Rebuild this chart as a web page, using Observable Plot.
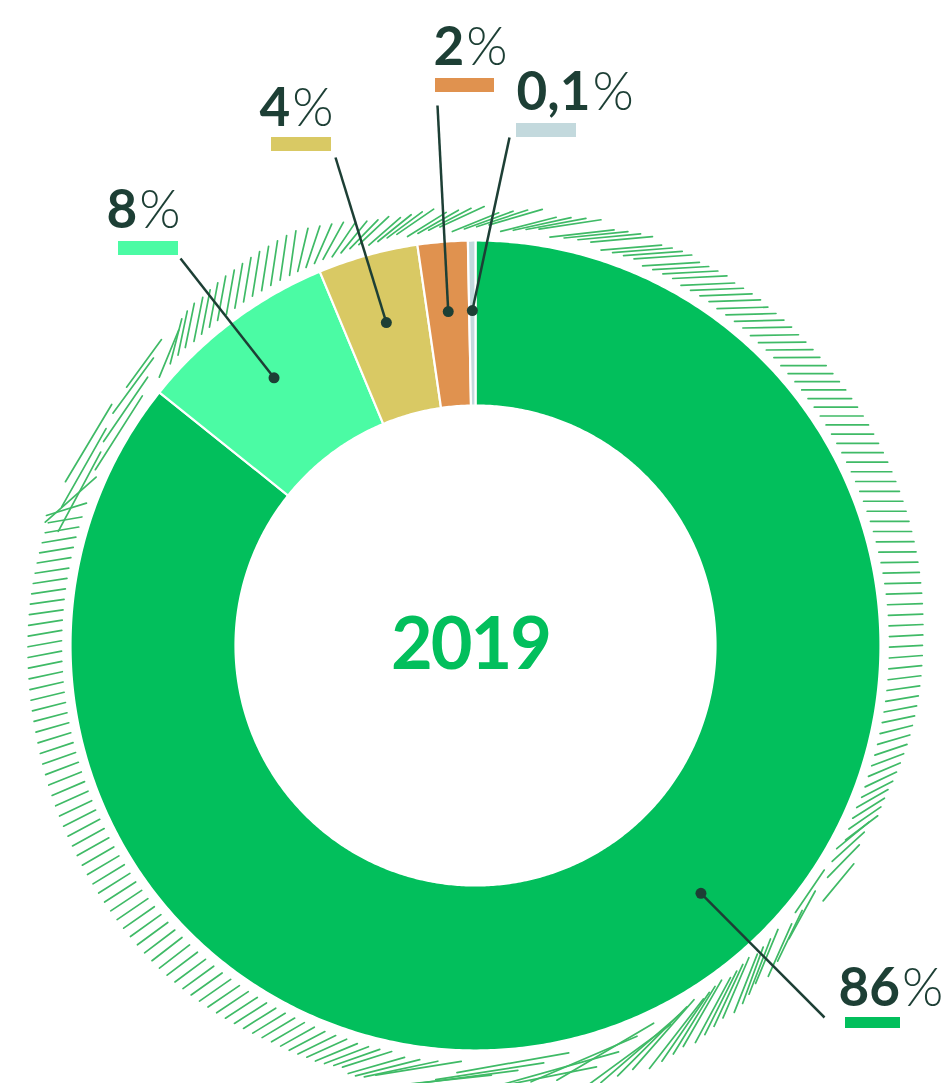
<!DOCTYPE html>
<html><head><meta charset="utf-8">
<script src="https://cdn.jsdelivr.net/npm/d3@7"></script>
<script src="https://cdn.jsdelivr.net/npm/@observablehq/plot@0.6"></script>
<style>html,body{margin:0;padding:0;background:#fff}</style>
</head><body><div id="chart"></div>
<script>
// ---- data ----
const categories = ["cat1", "cat2", "cat3", "cat4", "cat5"];
const values = [86, 8, 4, 2, 0.1];
const valueNumbers = ["86", "8", "4", "2", "0,1"];
const valueUnit = "%";
const colors = ["#02bf5c", "#4bfba4", "#d9c964", "#e0924f", "#c3d9dd"];
const centerLabel = "2019";

// ---- layout (pixels) ----
const W = 947, H = 1083;
const cx = 475, cy = 645, rOuter = 405, rInner = 240, rDot = 335;
const minVisualShare = 0.3; // tiny slices drawn slightly wider so they stay visible
const ink = "#1d3f35";
const numFont = {size: 53, weight: 700};
const labelLayout = [
  {tx: 838, ty: 1005, bx1: 845, bx2: 900, by1: 1017, by2: 1028, lx: 824, ly: 1017, dotAngle: 137.7},
  {tx: 106, ty: 227, bx1: 118, bx2: 178, by1: 241, by2: 255, lx: 180, ly: 258},
  {tx: 259, ty: 125, bx1: 271, bx2: 331, by1: 137, by2: 151, lx: 335, ly: 157},
  {tx: 433, ty: 64, bx1: 435, bx2: 494, by1: 78, by2: 92, lx: 437, ly: 105},
  {tx: 516, ty: 109, bx1: 516, bx2: 576, by1: 123, by2: 137, lx: 509, ly: 137}
];

// ---- slices ----
const shares = values.map(v => Math.max(v, minVisualShare));
const total = d3.sum(shares);
let acc = 0;
const slices = shares.map((v, i) => {
  const a0 = acc / total * 2 * Math.PI; acc += v;
  const a1 = acc / total * 2 * Math.PI;
  return {i, key: categories[i], color: colors[i], a0, a1};
});
const P = (r, a) => ({x: cx + r * Math.sin(a), y: cy - r * Math.cos(a)});
const slicePts = slices.flatMap(s => {
  const n = Math.max(2, Math.ceil((s.a1 - s.a0) / (Math.PI / 360)));
  const pts = [];
  for (let k = 0; k <= n; k++) pts.push({...P(rOuter, s.a0 + (s.a1 - s.a0) * k / n), key: s.key, color: s.color});
  for (let k = n; k >= 0; k--) pts.push({...P(rInner, s.a0 + (s.a1 - s.a0) * k / n), key: s.key, color: s.color});
  return pts;
});

// ---- labels ----
const ctx = document.createElement("canvas").getContext("2d");
ctx.font = `${numFont.weight} ${numFont.size}px Lato`;
const labels = slices.map((s, i) => {
  const L = labelLayout[i];
  const a = L.dotAngle != null ? L.dotAngle * Math.PI / 180 : (s.a0 + s.a1) / 2;
  const d = P(rDot, a);
  const w = ctx.measureText(valueNumbers[i]).width;
  return {...L, num: valueNumbers[i], unit: valueUnit, px: L.tx + w + 2, color: s.color, dx: d.x, dy: d.y};
});

// ---- decorative hatch ring ----
const hatchKeys = [0, 15, 30, 50, 75, 90, 100, 110, 120, 130, 140, 150, 160, 170, 185, 195, 205, 225, 245, 260, 275, 288, 291, 300, 310, 316, 335, 345, 360];
const hatchTilt = [22, 6, 3, 0, 0, 3, 12, 28, 45, 62, 70, 58, 36, 12, 6, 18, 30, 38, 28, 15, 8, 10, 62, 58, 52, 78, 82, 45, 22];
const hatchLen = [50, 65, 55, 45, 38, 33, 33, 35, 45, 55, 60, 80, 110, 120, 100, 50, 38, 38, 36, 34, 34, 34, 90, 90, 60, 45, 45, 40, 50];
const tiltS = d3.scaleLinear(hatchKeys, hatchTilt);
const lenS = d3.scaleLinear(hatchKeys, hatchLen);
const hatch = [];
let k = 0;
for (let t = 0; t < 359.5; k++) {
  const th = t * Math.PI / 180, ph = tiltS(t) * Math.PI / 180, h = lenS(t) / 2;
  const ux = Math.sin(th), uy = -Math.cos(th);
  const dxv = Math.cos(ph), dyv = -Math.sin(ph);
  const radial = Math.abs(dxv * ux + dyv * uy);          // |cos| between stroke and radius
  const layer = (k % 4) * 8 * Math.pow(1 - radial, 3);   // tangential strokes stack in layers
  const rm = rOuter + 9 + h * radial + layer;
  const mx = cx + rm * ux, my = cy + rm * uy;
  hatch.push({x1: mx - h * dxv, y1: my - h * dyv, x2: mx + h * dxv, y2: my + h * dyv});
  const sep = Math.min(24, Math.max(10.5, 5 / Math.max(radial, 0.05))); // spacing along the ring
  t += sep / 430 * 180 / Math.PI;
}

const chart = Plot.plot({
  width: W, height: H, margin: 0,
  x: {domain: [0, W], range: [0, W], axis: null},
  y: {domain: [0, H], range: [0, H], axis: null},
  style: {fontFamily: "Lato, sans-serif", background: "#fff"},
  marks: [
    Plot.link(hatch, {x1: "x1", y1: "y1", x2: "x2", y2: "y2", stroke: "#3fba66", strokeWidth: 1.7, strokeLinecap: "round"}),
    Plot.line(slicePts, {x: "x", y: "y", z: "key", fill: "color", stroke: "#fff", strokeWidth: 2.2, curve: "linear-closed"}),
    Plot.link(labels, {x1: "lx", y1: "ly", x2: "dx", y2: "dy", stroke: ink, strokeWidth: 2.5}),
    Plot.dot(labels, {x: "dx", y: "dy", r: 5.5, fill: ink}),
    Plot.rect(labels, {x1: "bx1", x2: "bx2", y1: "by1", y2: "by2", fill: "color"}),
    Plot.text(labels, {x: "tx", y: "ty", text: "num", textAnchor: "start", lineAnchor: "bottom", fontSize: numFont.size, fontWeight: numFont.weight, fill: ink}),
    Plot.text(labels, {x: "px", y: "ty", text: "unit", textAnchor: "start", lineAnchor: "bottom", fontSize: numFont.size, fontWeight: 300, fill: ink}),
    Plot.text([centerLabel], {x: [470], y: [668], text: d => d, textAnchor: "middle", lineAnchor: "bottom", fontSize: 72, fontWeight: 700, fill: colors[0]})
  ]
});
d3.select(chart).selectAll("text").filter(function() { return this.textContent === centerLabel; }).attr("letter-spacing", "-2");
document.getElementById("chart").appendChild(chart);
</script>
</body></html>
